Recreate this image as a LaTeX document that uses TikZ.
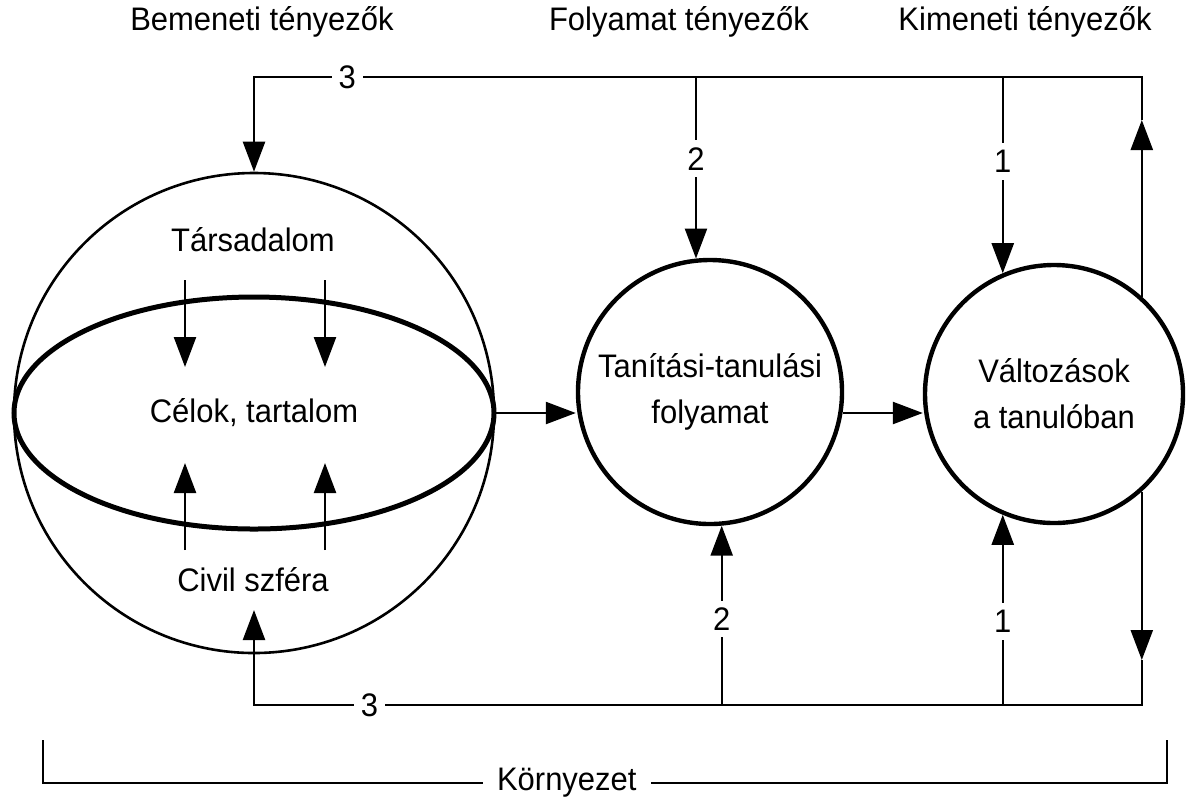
\documentclass[tikz,border=0pt]{standalone}
\usepackage{fontspec}
\setmainfont[FakeStretch=0.95]{Liberation Sans}
\usepackage{tikz}
\usetikzlibrary{arrows.meta,shapes,positioning,calc}
\tikzstyle{txt}=[font=\fontsize{16.3pt}{23pt}\selectfont, inner sep=2pt]
\tikzstyle{sphere}=[circle, draw, line width=1.3pt, minimum size=240pt, inner sep=0pt]
\tikzstyle{equator}=[txt, ellipse, draw, line width=2.5pt, minimum width=240pt, minimum height=116pt, inner sep=0pt]
\tikzstyle{stage node}=[txt, circle, draw, line width=2.2pt, minimum size=132pt, align=center]
\tikzstyle{factor num}=[txt, fill=white, inner sep=3.5pt]
\tikzstyle{fbedge}=[-{Triangle[length=15pt,width=11pt]}, line width=1.2pt]
\tikzstyle{plain edge}=[line width=1.2pt]

\begin{document}
\begin{tikzpicture}[x=0.5pt,y=-0.5pt]
\useasboundingbox (0,0) rectangle (1186,800);

	% Headers
    \node[txt] (H-1) at (262,22) {Bemeneti tényezők};
    \node[txt] (H-2) at (679,22) {Folyamat tényezők};
    \node[txt] (H-3) at (1025,22) {Kimeneti tényezők};

	% Input sphere
    \node[sphere] (In) at (254,413) {};
    \node[equator] (Eq) at (In) {Célok, tartalom};
    \node[txt] (Soc) at (253,240) {Társadalom};
    \node[txt] (Civ) at (253,580) {Civil szféra};

    \foreach \x in {185,325} {
        \coordinate (S-\x) at (\x,280);
        \coordinate (C-\x) at (\x,550);
        \draw[fbedge] (S-\x) -- (S-\x |- 0,367);
        \draw[fbedge] (C-\x) -- (C-\x |- 0,463);
    }

	% Process and output
    \node[stage node] (Pr) at (710,392) {Tanítási-tanulási\\folyamat};
    \node[stage node, minimum size=129pt] (Out) at (1054,394) {Változások\\a tanulóban};

    \draw[fbedge] (In.east) -- (In.east -| Pr.west);
    \draw[fbedge] (Pr.-9) -- (Pr.-9 -| Out.west);

	% Feedback loops
    \coordinate (TL) at (In.north |- 0,77);
    \coordinate (TR) at (Out.48 |- 0,77);
    \coordinate (BL) at (In.south |- 0,705);
    \coordinate (BR) at (Out.-48 |- 0,705);
    \coordinate (T-tip) at (Out.48 |- 0,120);
    \coordinate (B-tip) at (Out.-48 |- 0,660);
    \coordinate (Civ-in) at (In.south |- 0,610);

    \draw[fbedge] (Out.48) -- (T-tip);
    \draw[fbedge] (T-tip) -- (TR) -- node[factor num, pos=0.895] {3} (TL) -- (In.north);
    \draw[fbedge] (Out.-48) -- (B-tip);
    \draw[fbedge] (B-tip) -- (BR) -- node[factor num, pos=0.87] {3} (BL) -- (Civ-in);

    \draw[fbedge] (Pr.96 |- TL) -- node[factor num, pos=0.45] {2} (Pr.96);
    \draw[fbedge] (Pr.-85 |- BL) -- node[factor num, pos=0.48] {2} (Pr.-85);
    \draw[fbedge] (Out.113 |- TL) -- node[factor num, pos=0.43] {1} (Out.113);
    \draw[fbedge] (Out.-113 |- BL) -- node[factor num, pos=0.44] {1} (Out.-113);

	% Environment bracket
    \coordinate (E-1) at (43,740);
    \coordinate (E-2) at (1167,740);
    \draw[plain edge] (E-1) -- (E-1 |- 0,783) -- node[txt, fill=white, inner xsep=7pt, pos=0.466] (Env) {Környezet} (E-2 |- 0,783) -- (E-2);

\end{tikzpicture}
\end{document}
